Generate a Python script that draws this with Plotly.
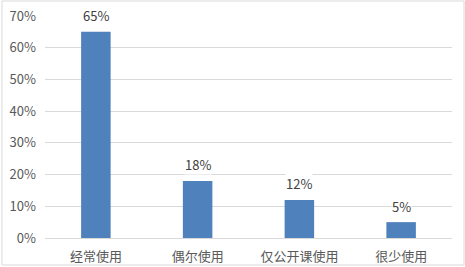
import plotly.graph_objects as go

categories = ["经常使用", "偶尔使用", "仅公开课使用", "很少使用"]
values = [0.65, 0.18, 0.12, 0.05]
labels = ["65%", "18%", "12%", "5%"]

FONT = "Noto Sans CJK SC"
fig = go.Figure(go.Bar(
    x=categories, y=values,
    marker=dict(color="#4F81BD", line=dict(width=0)),
    hoverinfo="skip",
))
for c, v, t in zip(categories, values, labels):
    fig.add_annotation(x=c, y=v, text=t, showarrow=False, yshift=16,
                       yanchor="middle", bgcolor="white", borderpad=0,
                       font=dict(size=13, color="#404040", family=FONT))
fig.update_layout(
    width=465, height=267,
    margin=dict(l=45, r=13, t=16, b=29, autoexpand=False),
    paper_bgcolor="white", plot_bgcolor="white",
    bargap=0.71, showlegend=False,
    font=dict(family=FONT, size=13, color="#595959"),
    yaxis=dict(range=[0, 0.70], dtick=0.1, tickformat=".0%", showgrid=True,
               gridcolor="#D9D9D9", gridwidth=1, zeroline=False, showline=False,
               ticks="", ticklen=0, automargin=False, ticklabelstandoff=8,
               tickfont=dict(size=13, color="#595959", family=FONT)),
    xaxis=dict(showline=True, linecolor="#D9D9D9", linewidth=1, ticks="",
               automargin=False, ticklabelstandoff=6,
               tickfont=dict(size=13, color="#595959", family=FONT)),
)
fig.add_shape(type="rect", xref="paper", yref="paper",
              x0=-43/407, x1=1+12/407, y0=-27/222, y1=1+15/222,
              line=dict(color="#D9D9D9", width=1))
fig.write_html("out.html")
